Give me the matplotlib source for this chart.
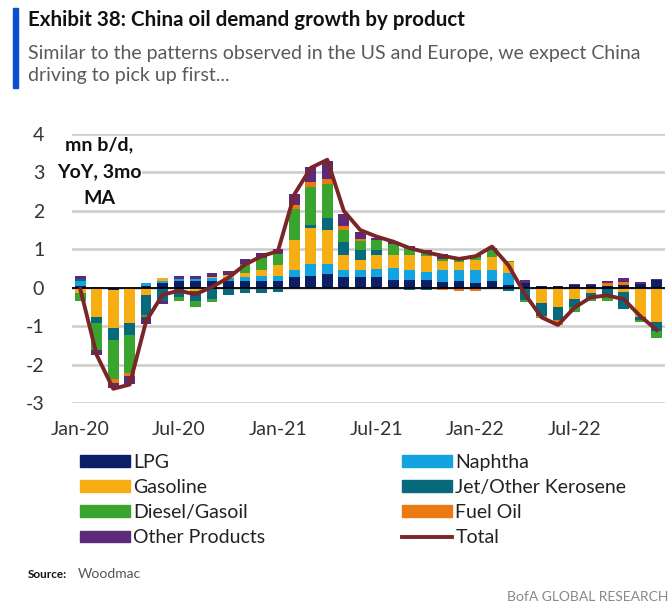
import matplotlib
matplotlib.use('Agg')
import matplotlib.pyplot as plt
import numpy as np
from matplotlib.patches import Rectangle, Patch
from matplotlib.lines import Line2D

plt.rcParams['font.family'] = ['Lato', 'DejaVu Sans']

# monthly, Jan-20 .. Dec-22 (mn b/d, YoY, 3mo MA)
months = ['Jan-20', 'Feb-20', 'Mar-20', 'Apr-20', 'May-20', 'Jun-20',
          'Jul-20', 'Aug-20', 'Sep-20', 'Oct-20', 'Nov-20', 'Dec-20',
          'Jan-21', 'Feb-21', 'Mar-21', 'Apr-21', 'May-21', 'Jun-21',
          'Jul-21', 'Aug-21', 'Sep-21', 'Oct-21', 'Nov-21', 'Dec-21',
          'Jan-22', 'Feb-22', 'Mar-22', 'Apr-22', 'May-22', 'Jun-22',
          'Jul-22', 'Aug-22', 'Sep-22', 'Oct-22', 'Nov-22', 'Dec-22']

lpg = [0.05, 0.0, -0.05, -0.02, 0.05, 0.12, 0.17, 0.17, 0.17, 0.17, 0.17, 0.17,
       0.18, 0.27, 0.31, 0.35, 0.27, 0.27, 0.27, 0.21, 0.20, 0.20, 0.16, 0.18,
       0.13, 0.17, 0.06, 0.12, 0.04, 0.04, 0.06, 0.06, 0.04, 0.06, 0.10, 0.20]
naphtha = [0.12, 0.03, 0.0, 0.0, 0.07, 0.05, 0.06, 0.06, 0.08, 0.09, 0.10, 0.13,
           0.13, 0.18, 0.31, 0.27, 0.18, 0.18, 0.22, 0.30, 0.25, 0.22, 0.31, 0.27,
           0.34, 0.30, 0.33, 0.0, 0.0, 0.0, 0.0, 0.0, 0.0, 0.0, 0.0, 0.0]
gasoline = [-0.13, -0.75, -1.0, -0.9, -0.2, 0.08, 0.0, -0.08, 0.03, 0.06, 0.12, 0.17,
            0.27, 0.80, 0.93, 0.88, 0.40, 0.27, 0.35, 0.33, 0.40, 0.40, 0.22, 0.22,
            0.26, 0.34, 0.28, -0.03, -0.40, -0.50, -0.30, -0.15, 0.0, -0.10, -0.75, -0.90]
jet = [0.05, -0.17, -0.32, -0.30, -0.50, -0.35, -0.25, -0.27, -0.30, -0.20, -0.13, -0.13,
       -0.10, 0.0, 0.09, 0.31, 0.35, 0.27, 0.13, 0.0, -0.05, -0.05, 0.0, 0.0,
       0.0, 0.0, -0.08, -0.30, -0.34, -0.34, -0.20, -0.15, -0.22, -0.45, -0.08, -0.22]
diesel = [-0.22, -0.70, -1.0, -1.0, -0.05, 0.0, -0.10, -0.15, -0.08, 0.0, 0.22, 0.30,
          0.31, 0.80, 0.97, 0.88, 0.31, 0.22, 0.27, 0.29, 0.18, 0.10, 0.05, 0.05,
          0.08, 0.17, 0.03, -0.05, 0.0, 0.0, -0.12, -0.05, -0.13, 0.0, -0.07, -0.20]
fuel_oil = [0.0, 0.0, -0.10, -0.08, 0.0, 0.0, 0.0, 0.0, 0.0, 0.0, 0.0, 0.0,
            0.0, 0.09, 0.13, 0.13, 0.09, 0.05, 0.0, 0.0, 0.0, 0.0, -0.05, -0.08,
            -0.08, 0.0, 0.0, 0.0, -0.05, -0.13, 0.0, 0.0, 0.08, 0.09, 0.0, 0.0]
other = [0.08, -0.13, -0.15, -0.20, -0.20, -0.08, 0.07, 0.07, 0.10, 0.12, 0.13, 0.13,
         0.13, 0.31, 0.40, 0.49, 0.31, 0.18, 0.05, 0.05, 0.05, 0.05, 0.13, 0.09,
         0.03, 0.05, 0.0, 0.08, 0.0, 0.0, 0.04, 0.04, 0.05, 0.09, 0.06, 0.03]
total = [-0.03, -1.75, -2.63, -2.52, -0.87, -0.18, -0.08, -0.17, 0.02, 0.26, 0.60, 0.82,
         0.95, 2.43, 3.12, 3.33, 2.00, 1.50, 1.33, 1.20, 1.03, 0.92, 0.83, 0.75,
         0.82, 1.07, 0.58, -0.17, -0.77, -0.97, -0.52, -0.25, -0.20, -0.30, -0.74, -1.10]

series = [
    ('LPG', lpg, '#0b1f66'),
    ('Naphtha', naphtha, '#12a3e0'),
    ('Gasoline', gasoline, '#f7ae12'),
    ('Jet/Other Kerosene', jet, '#066a7c'),
    ('Diesel/Gasoil', diesel, '#3aa52e'),
    ('Fuel Oil', fuel_oil, '#ec7a12'),
    ('Other Products', other, '#5c2a78'),
]
total_color = '#7a2527'

fig = plt.figure(figsize=(6.72, 6.06), dpi=100)
W, H = 672, 606
ax = fig.add_axes([72 / W, 1 - 403 / H, (665 - 72) / W, (403 - 134) / H])

x = np.arange(len(months))
pos_base = np.zeros(len(x))
neg_base = np.zeros(len(x))
for name, vals, col in series:
    v = np.array(vals)
    pos = np.where(v > 0, v, 0)
    neg = np.where(v < 0, v, 0)
    ax.bar(x, pos, bottom=pos_base, width=0.65, color=col, zorder=2)
    ax.bar(x, neg, bottom=neg_base, width=0.65, color=col, zorder=2)
    pos_base += pos
    neg_base += neg

ax.axhline(0, color='black', lw=1.3, zorder=3)
ax.plot(x, total, color=total_color, lw=2.8, zorder=4, solid_joinstyle='round')

ax.set_xlim(-0.5, len(x) - 0.5)
ax.set_ylim(-3, 4)
ax.set_yticks(range(-3, 5))
ax.set_yticklabels([str(v) for v in range(-3, 5)])
ax.set_xticks(x[::6])
ax.set_xticklabels(months[::6])
ax.tick_params(axis='both', length=0, labelsize=14, colors='#333333')
ax.tick_params(axis='y', pad=20)
ax.tick_params(axis='x', pad=13)
ax.yaxis.grid(True, color='#cccccc', lw=1.8)
ax.set_axisbelow(True)
for s in ax.spines.values():
    s.set_visible(False)

ax.text(0.046, 0.99, 'mn b/d,\nYoY, 3mo\nMA', transform=ax.transAxes,
        ha='center', va='top', fontsize=14, fontweight='bold', linespacing=1.7,
        color='#111111', bbox=dict(facecolor='white', edgecolor='none', pad=0.5),
        zorder=6)

# header
fig.patches.append(Rectangle((13 / W, 1 - 88 / H), 5 / W, 80 / H,
                             transform=fig.transFigure, color='#0a4fd0'))
fig.text(28 / W, 1 - 20 / H, 'Exhibit 38: China oil demand growth by product',
         fontsize=14.8, fontweight='bold', va='center', color='#111111')
fig.text(28 / W, 1 - 53 / H,
         'Similar to the patterns observed in the US and Europe, we expect China',
         fontsize=14, va='center', color='#5a5a5a')
fig.text(28 / W, 1 - 76 / H, 'driving to pick up first...',
         fontsize=14, va='center', color='#5a5a5a')

# legend in two blocks
handles = [Patch(color=c) for _, _, c in series]
handles.append(Line2D([], [], color=total_color, lw=2.8))
labels = [n for n, _, _ in series] + ['Total']
left_idx = [0, 2, 4, 6]
right_idx = [1, 3, 5, 7]
for idx, x0 in ((left_idx, 76), (right_idx, 398)):
    fig.legend([handles[i] for i in idx], [labels[i] for i in idx],
               loc='upper left', bbox_to_anchor=(x0 / W, 1 - 450 / H),
               frameon=False, fontsize=14, handlelength=2.6, handleheight=0.55,
               handletextpad=0.15, labelspacing=0.42, labelcolor='#222222',
               borderaxespad=0, borderpad=0.2)

fig.text(28 / W, 1 - 574 / H, 'Source:', fontsize=8.5, fontweight='bold',
         va='center', color='#111111')
fig.text(78 / W, 1 - 574 / H, 'Woodmac', fontsize=10, va='center', color='#555555')
fig.text(668 / W, 1 - 597 / H, 'BofA GLOBAL RESEARCH', fontsize=10, ha='right',
         va='center', color='#888888')

fig.savefig('out.png', dpi=100, facecolor='white')
